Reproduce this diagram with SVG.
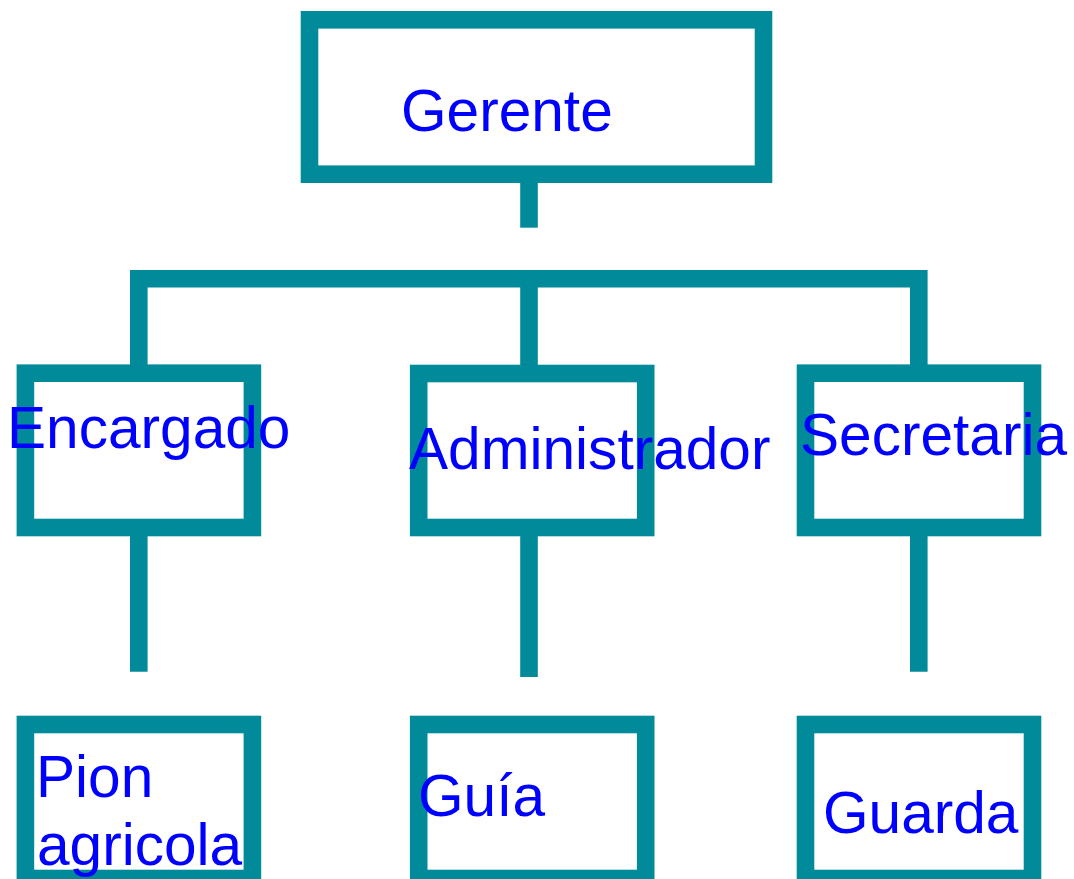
<svg xmlns="http://www.w3.org/2000/svg" width="1074" height="879" viewBox="0 0 1074 879">
  <style>
    .box { fill: #ffffff; stroke: #008A9A; stroke-width: 17.6; stroke-linejoin: miter; }
    .conn { fill: none; stroke: #008A9A; stroke-width: 17.6; stroke-linejoin: miter; stroke-linecap: butt; }
    .lbl { font-family: "Liberation Sans", Arial, sans-serif; font-size: 58.6px; fill: #0000FF; }
  </style>
  <rect width="1074" height="879" fill="#ffffff"/>
  <g id="connectors">
    <path class="conn" d="M529,183 V227.7"/>
    <path class="conn" d="M138.8,365 V278.7 H918.8 V365"/>
    <path class="conn" d="M529,278.7 V365"/>
    <path class="conn" d="M138.8,536 V671.7"/>
    <path class="conn" d="M529,536 V677"/>
    <path class="conn" d="M918.8,536 V671.7"/>
  </g>
  <g id="gerente">
    <rect class="box" x="309.5" y="19.8" width="454" height="154.4"/>
    <text class="lbl" x="401" y="130.7">Gerente</text>
  </g>
  <g id="encargado">
    <rect class="box" x="25.4" y="373.2" width="227" height="154.3"/>
    <text class="lbl" x="7" y="447.7">Encargado</text>
  </g>
  <g id="administrador">
    <rect class="box" x="418.7" y="373.5" width="227" height="154"/>
    <text class="lbl" x="409" y="469">Administrador</text>
  </g>
  <g id="secretaria">
    <rect class="box" x="805.5" y="373.2" width="227" height="154.3"/>
    <text class="lbl" x="800" y="455">Secretaria</text>
  </g>
  <g id="pion">
    <rect class="box" x="25.4" y="724.5" width="227" height="154"/>
    <text class="lbl" x="36" y="796.7">Pion</text>
    <text class="lbl" x="37" y="865">agricola</text>
  </g>
  <g id="guia">
    <rect class="box" x="418.7" y="724.5" width="227" height="154"/>
    <text class="lbl" x="418" y="815.7">Guía</text>
  </g>
  <g id="guarda">
    <rect class="box" x="805.5" y="724.5" width="227" height="154"/>
    <text class="lbl" x="823" y="832.7">Guarda</text>
  </g>
</svg>
